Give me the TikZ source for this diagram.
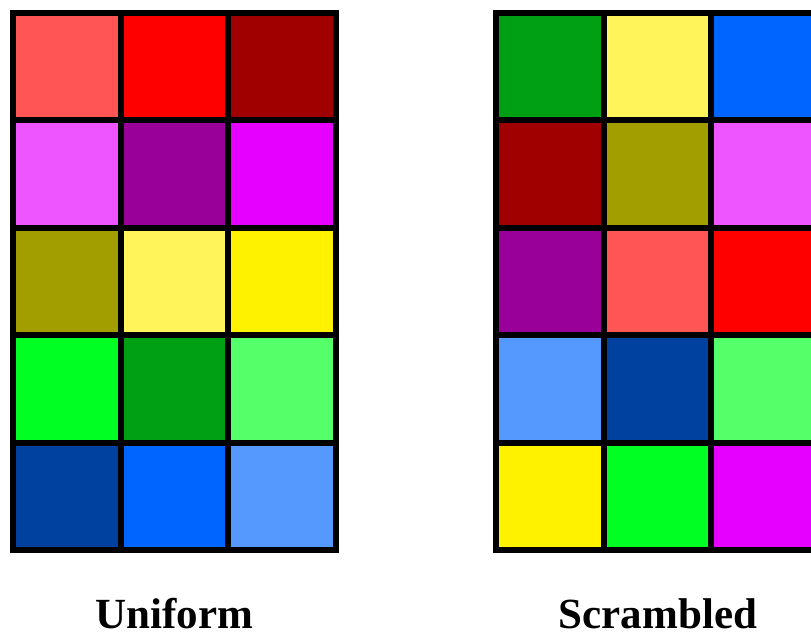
\documentclass[tikz,border=0pt]{standalone}
\usepackage{fontspec}
\setmainfont{Liberation Serif}
\definecolor{lred}{HTML}{FF5555}
\definecolor{red0}{HTML}{FF0000}
\definecolor{dred}{HTML}{A00000}
\definecolor{lmag}{HTML}{EE55FF}
\definecolor{purp}{HTML}{990099}
\definecolor{mag}{HTML}{E600FF}
\definecolor{olive0}{HTML}{A39E00}
\definecolor{lyel}{HTML}{FFF55A}
\definecolor{yel}{HTML}{FFF200}
\definecolor{grn}{HTML}{00FF22}
\definecolor{dgrn}{HTML}{00A015}
\definecolor{lgrn}{HTML}{55FF6A}
\definecolor{dblu}{HTML}{0041A0}
\definecolor{blu}{HTML}{0065FF}
\definecolor{lblu}{HTML}{5599FF}
\newcommand\colgrid[2]{%
  \foreach \c [count=\i from 0] in {#2} {
    \pgfmathtruncatemacro\cc{mod(\i,3)}
    \pgfmathtruncatemacro\rr{div(\i,3)}
    \filldraw[cell, fill=\c] ({#1+\cc*107.7},{13+\rr*107.4}) rectangle ++(107.7,107.4);
  }%
}
\begin{document}
\begin{tikzpicture}[x=1pt,y=-1pt,
  cell/.style={draw=black, line width=6pt, line join=miter},
  lbl/.style={anchor=base, font=\fontsize{43}{50}\selectfont\bfseries}]
\useasboundingbox (0,0) rectangle (811,634);
\clip (0,0) rectangle (811,634);
\fill[white] (0,0) rectangle (811,634);
\colgrid{13}{lred,red0,dred,lmag,purp,mag,olive0,lyel,yel,grn,dgrn,lgrn,dblu,blu,lblu}
\colgrid{496}{dgrn,lyel,blu,dred,olive0,lmag,purp,lred,red0,lblu,dblu,lgrn,yel,grn,mag}
\node[lbl] (uniform) at (174.5,628) {Uniform};
\node[lbl] (scrambled) at (658,628) {Scrambled};
\end{tikzpicture}
\end{document}
